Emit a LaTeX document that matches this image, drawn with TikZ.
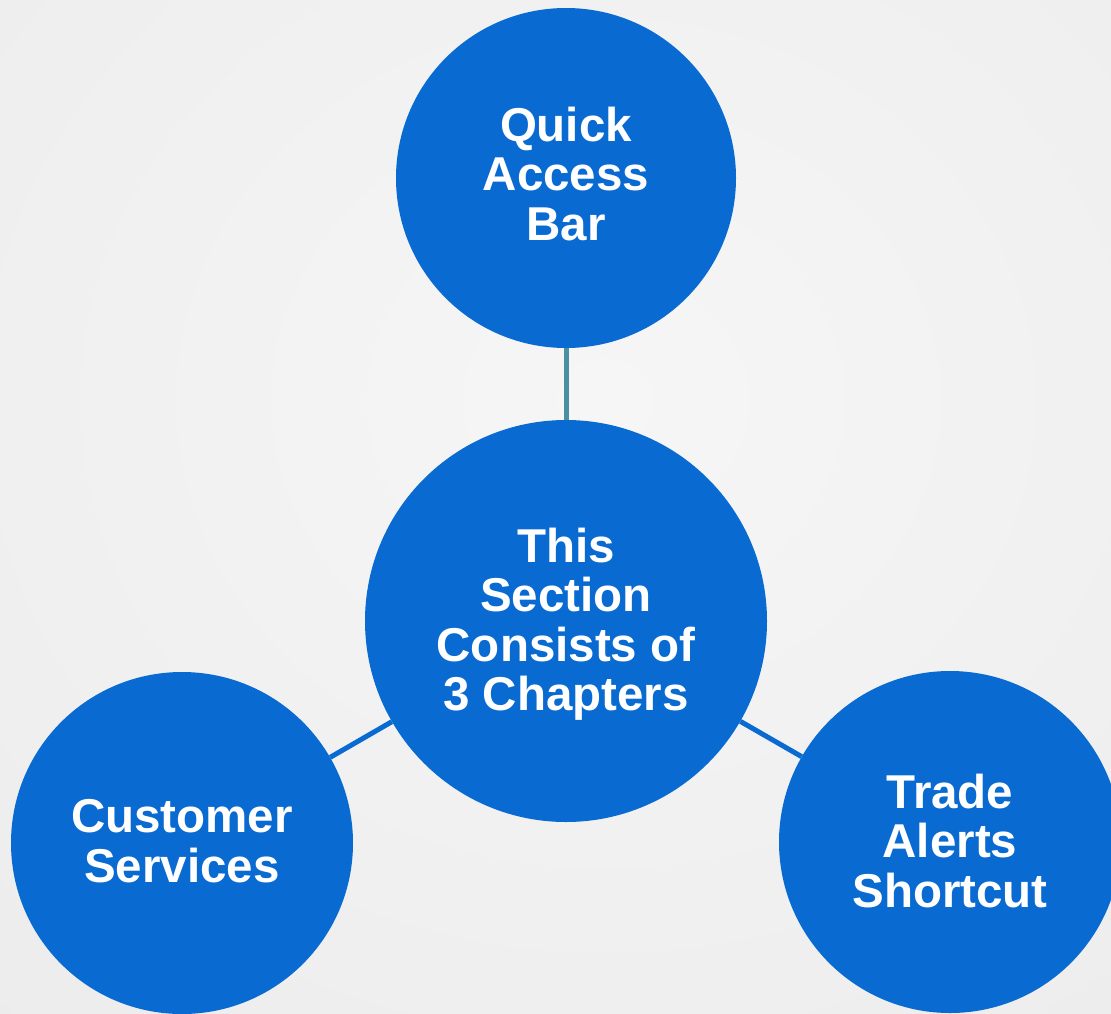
\documentclass[tikz,border=0pt]{standalone}
\usepackage{fontspec}
\setmainfont{Liberation Sans}
\begin{document}
\begin{tikzpicture}[x=1pt,y=-1pt,
  bub/.style={circle, fill=bubblue, draw=none, inner sep=0pt},
  lbl/.style={align=center, text=white, inner sep=0pt,
    font=\fontsize{47.5}{49.5}\selectfont\bfseries},
  linkteal/.style={draw=linkteal, line width=5pt},
  linkblue/.style={draw=bubblue, line width=5pt}]
\definecolor{bubblue}{HTML}{096BD1}
\definecolor{linkteal}{HTML}{4A8FA2}
\definecolor{bgin}{HTML}{F6F6F6}
\definecolor{bgout}{HTML}{ECECEC}
\useasboundingbox (0,0) rectangle (1111,1013);
\clip (0,0) rectangle (1111,1013);
\shade[inner color=bgin, outer color=bgout] (-350,-450) rectangle (1561,1250);
% circles
\node[bub, minimum size=340pt] (top) at (566,178) {};
\node[bub, minimum size=402pt] (mid) at (566,621) {};
\node[bub, minimum size=342pt] (left) at (182,843) {};
\node[bub, minimum size=342pt] (right) at (950,842) {};
% connectors
\draw[linkteal] (top) -- (mid);
\draw[linkblue] (left) -- (mid);
\draw[linkblue] (mid) -- (right);
% labels
\node[lbl] (topt) at (566,174) {Quick\\Access\\Bar};
\node[lbl] (midt) at (566,624) {This\\Section\\Consists of\\3 Chapters};
\node[lbl] (leftt) at (182,841) {Customer\\Services};
\node[lbl] (rightt) at (950,841) {Trade\\Alerts\\Shortcut};
\end{tikzpicture}
\end{document}
